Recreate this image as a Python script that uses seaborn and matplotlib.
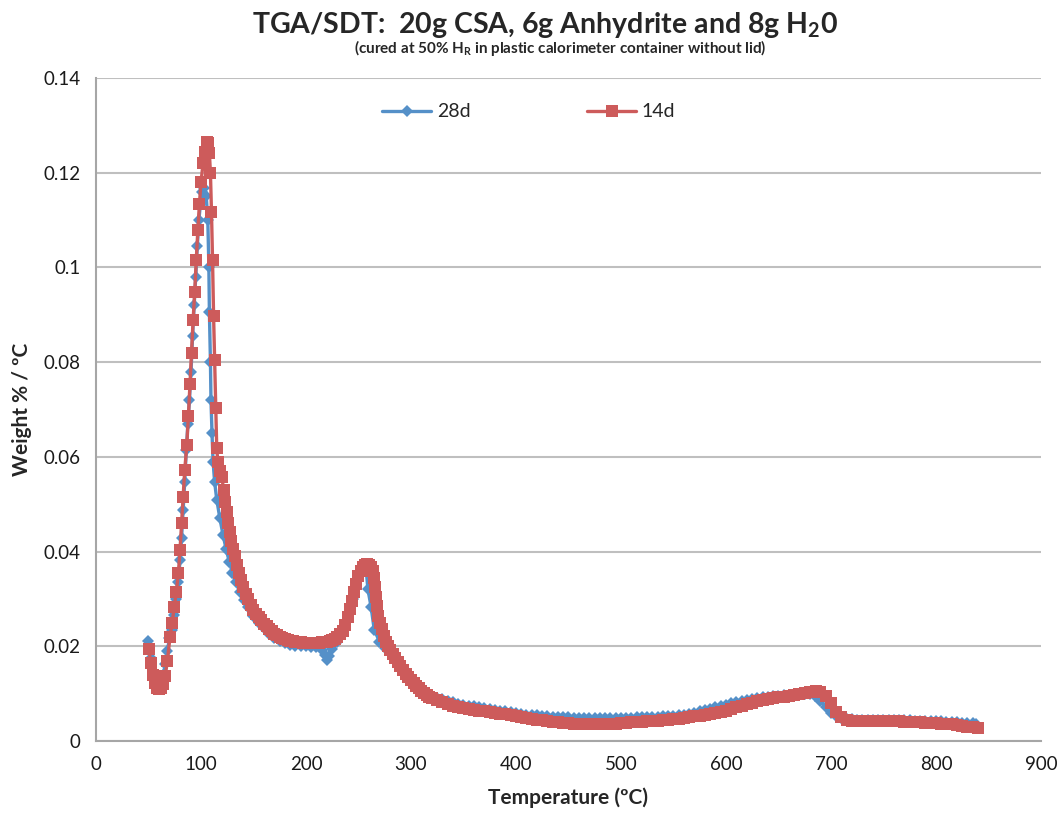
import numpy as np
import pandas as pd
import matplotlib
matplotlib.use("Agg")
import matplotlib.pyplot as plt
import seaborn as sns

# ---------------- data ----------------
temp_14d = [50.5, 52, 54, 56, 58, 60, 62, 64, 66, 68,
            70.5, 72.5, 74.5, 76.5, 78.5, 80, 81.5, 83, 84.5, 86.5,
            88, 89.5, 91, 92.5, 94, 95.5, 97, 98.5, 100, 102,
            104, 106, 107, 108, 109, 110, 111, 112, 113, 114,
            115, 116, 118, 120, 121.5, 123, 124.5, 126, 127.5, 129,
            130.5, 132, 134, 136, 138, 140, 142.5, 145, 147.5, 150,
            152.5, 155, 157.5, 160, 162.5, 165, 167.5, 170, 172.5, 175,
            177.5, 180, 182.5, 185, 187.5, 190, 192.5, 195, 197.5, 200,
            202.5, 205, 207.5, 210, 212.5, 215, 217.5, 220, 222.5, 225,
            227.5, 230, 232.5, 235, 237.5, 240, 242, 244, 246, 248,
            250, 252, 254, 256, 258, 260, 262, 263.5, 265, 266,
            267, 268, 269, 270.5, 272, 274, 276, 278, 280, 282.5,
            285, 287.5, 290, 292.5, 295, 297.5, 300, 302.5, 305, 307.5,
            310, 312.5, 315, 317.5, 320, 325, 330, 335, 340, 345,
            350, 355, 360, 365, 370, 375, 380, 385, 390, 395,
            400, 405, 410, 415, 420, 425, 430, 435, 440, 445,
            450, 455, 460, 465, 470, 475, 480, 485, 490, 495,
            500, 505, 510, 515, 520, 525, 530, 535, 540, 545,
            550, 555, 560, 565, 570, 575, 580, 585, 590, 595,
            600, 605, 610, 615, 620, 625, 630, 635, 640, 645,
            650, 655, 660, 665, 670, 675, 680, 686, 690, 695,
            700, 705, 710, 715, 720, 725, 730, 735, 740, 745,
            750, 755, 760, 765, 770, 775, 780, 785, 790, 795,
            800, 805, 810, 815, 820, 825, 830, 835, 840]
w_14d = [0.0195, 0.0165, 0.0140, 0.0122, 0.0113, 0.0110, 0.0112, 0.0120, 0.0138, 0.0170,
         0.0220, 0.0249, 0.0283, 0.0315, 0.0355, 0.0403, 0.0460, 0.0515, 0.0572, 0.0625,
         0.0686, 0.0754, 0.0819, 0.0889, 0.0948, 0.1016, 0.1079, 0.1134, 0.1180, 0.1220,
         0.1244, 0.1265, 0.1262, 0.1242, 0.1199, 0.1117, 0.1016, 0.0897, 0.0804, 0.0703,
         0.0619, 0.0590, 0.0570, 0.0557, 0.0530, 0.0505, 0.0483, 0.0460, 0.0441, 0.0423,
         0.0405, 0.0390, 0.0372, 0.0355, 0.0340, 0.0325, 0.0311, 0.0299, 0.0287, 0.0277,
         0.0269, 0.0262, 0.0255, 0.0248, 0.0242, 0.0237, 0.0232, 0.0227, 0.0223, 0.0220,
         0.0217, 0.0215, 0.0213, 0.0212, 0.0211, 0.0210, 0.0209, 0.0209, 0.0208, 0.0208,
         0.0208, 0.0208, 0.0208, 0.0208, 0.0208, 0.0209, 0.0209, 0.0210, 0.0211, 0.0213,
         0.0216, 0.0220, 0.0226, 0.0233, 0.0245, 0.0262, 0.0278, 0.0295, 0.0314, 0.0332,
         0.0348, 0.0360, 0.0368, 0.0372, 0.0373, 0.0372, 0.0368, 0.0360, 0.0345, 0.0325,
         0.0305, 0.0285, 0.0265, 0.0250, 0.0237, 0.0222, 0.0210, 0.0200, 0.0192, 0.0184,
         0.0175, 0.0166, 0.0158, 0.0150, 0.0142, 0.0135, 0.0129, 0.0123, 0.0117, 0.0111,
         0.0106, 0.0102, 0.0098, 0.0094, 0.0091, 0.0086, 0.0082, 0.0078, 0.0075, 0.0072,
         0.0070, 0.0068, 0.0066, 0.0064, 0.0063, 0.0061, 0.0060, 0.0058, 0.0057, 0.0055,
         0.0053, 0.0050, 0.0048, 0.0046, 0.0045, 0.0044, 0.0043, 0.0041, 0.0040, 0.0039,
         0.0038, 0.0037, 0.0036, 0.0035, 0.0035, 0.0035, 0.0035, 0.0035, 0.0036, 0.0037,
         0.0038, 0.0039, 0.0040, 0.0040, 0.0041, 0.0042, 0.0042, 0.0043, 0.0044, 0.0045,
         0.0046, 0.0047, 0.0049, 0.0050, 0.0052, 0.0053, 0.0055, 0.0057, 0.0059, 0.0061,
         0.0064, 0.0067, 0.0071, 0.0074, 0.0078, 0.0081, 0.0084, 0.0086, 0.0088, 0.0090,
         0.0092, 0.0094, 0.0096, 0.0097, 0.0099, 0.0101, 0.0103, 0.0106, 0.0104, 0.0095,
         0.0080, 0.0062, 0.0050, 0.0045, 0.0043, 0.0042, 0.0042, 0.0042, 0.0043, 0.0043,
         0.0043, 0.0043, 0.0042, 0.0042, 0.0041, 0.0041, 0.0040, 0.0040, 0.0039, 0.0039,
         0.0038, 0.0037, 0.0036, 0.0035, 0.0033, 0.0032, 0.0030, 0.0029, 0.0028]

temp_28d = [50, 52, 54, 56, 58, 60, 62, 64, 66, 68,
            70, 72, 74.5, 76.5, 78.5, 80, 81.5, 83, 84.5, 86,
            87.5, 89, 90.5, 92, 93.5, 95, 96.5, 98, 99.5, 101,
            103, 105, 106.5, 107.5, 108, 109, 109.5, 110.5, 111.5, 113,
            115, 118, 121, 124, 127, 130, 133, 137, 141, 145,
            150, 155, 160, 165, 170, 175, 180, 185, 190, 195,
            200, 205, 210, 215, 218, 220, 222, 225, 230, 235,
            240, 245, 250, 254, 257, 259, 262, 265, 270, 275,
            280, 285, 290, 295, 300, 305, 310, 315, 320, 325,
            330, 335, 340, 345, 350, 355, 360, 365, 370, 375,
            380, 385, 390, 395, 400, 405, 410, 415, 420, 425,
            430, 435, 440, 445, 450, 455, 460, 465, 470, 475,
            480, 485, 490, 495, 500, 505, 510, 515, 520, 525,
            530, 535, 540, 545, 550, 555, 560, 565, 570, 575,
            580, 585, 590, 595, 600, 605, 610, 615, 620, 625,
            630, 635, 640, 645, 650, 655, 660, 665, 670, 675,
            680, 685, 690, 695, 700, 705, 710, 715, 720, 725,
            730, 735, 740, 745, 750, 755, 760, 765, 770, 775,
            780, 785, 790, 795, 800, 805, 810, 815, 820, 825,
            830, 835, 838]
w_28d = [0.0212, 0.0175, 0.0145, 0.0125, 0.0117, 0.0118, 0.0125, 0.0140, 0.0162, 0.0190,
         0.0218, 0.0235, 0.0266, 0.0300, 0.0336, 0.0382, 0.0429, 0.0488, 0.0547, 0.0614,
         0.0670, 0.0720, 0.0780, 0.0855, 0.0920, 0.0980, 0.1045, 0.1100, 0.1135, 0.1160,
         0.1168, 0.1150, 0.1100, 0.1000, 0.0906, 0.0800, 0.0720, 0.0650, 0.0590, 0.0547,
         0.0510, 0.0470, 0.0435, 0.0405, 0.0378, 0.0355, 0.0335, 0.0315, 0.0298, 0.0283,
         0.0265, 0.0250, 0.0238, 0.0227, 0.0218, 0.0211, 0.0206, 0.0203, 0.0201, 0.0200,
         0.0200, 0.0199, 0.0198, 0.0193, 0.0182, 0.0172, 0.0180, 0.0195, 0.0210, 0.0228,
         0.0260, 0.0300, 0.0340, 0.0362, 0.0370, 0.0320, 0.0283, 0.0235, 0.0210, 0.0197,
         0.0188, 0.0170, 0.0155, 0.0140, 0.0127, 0.0116, 0.0106, 0.0100, 0.0095, 0.0091,
         0.0088, 0.0085, 0.0082, 0.0079, 0.0077, 0.0075, 0.0073, 0.0071, 0.0069, 0.0067,
         0.0066, 0.0064, 0.0063, 0.0061, 0.0059, 0.0057, 0.0056, 0.0055, 0.0054, 0.0053,
         0.0052, 0.0051, 0.0051, 0.0050, 0.0050, 0.0049, 0.0049, 0.0048, 0.0048, 0.0048,
         0.0048, 0.0048, 0.0048, 0.0048, 0.0049, 0.0049, 0.0049, 0.0050, 0.0050, 0.0050,
         0.0050, 0.0051, 0.0052, 0.0052, 0.0053, 0.0054, 0.0056, 0.0058, 0.0060, 0.0063,
         0.0066, 0.0068, 0.0071, 0.0074, 0.0077, 0.0080, 0.0082, 0.0085, 0.0087, 0.0089,
         0.0091, 0.0093, 0.0094, 0.0095, 0.0096, 0.0097, 0.0098, 0.0099, 0.0100, 0.0100,
         0.0100, 0.0095, 0.0085, 0.0072, 0.0060, 0.0052, 0.0048, 0.0047, 0.0046, 0.0045,
         0.0045, 0.0045, 0.0045, 0.0045, 0.0045, 0.0045, 0.0044, 0.0044, 0.0044, 0.0044,
         0.0043, 0.0043, 0.0043, 0.0043, 0.0042, 0.0042, 0.0041, 0.0041, 0.0040, 0.0039,
         0.0039, 0.0038, 0.0037]

series_names = ["28d", "14d"]
x_ticks = [0, 100, 200, 300, 400, 500, 600, 700, 800, 900]
y_ticks = [0, 0.02, 0.04, 0.06, 0.08, 0.1, 0.12, 0.14]
y_tick_labels = ["0", "0.02", "0.04", "0.06", "0.08", "0.1", "0.12", "0.14"]

# ---------------- style ----------------
sns.set_style("white")
plt.rcParams["font.family"] = ["Lato", "DejaVu Sans"]
plt.rcParams["mathtext.fontset"] = "custom"
plt.rcParams["mathtext.rm"] = "Lato"
plt.rcParams["mathtext.bf"] = "Lato:bold"
plt.rcParams["mathtext.it"] = "Lato:italic"

blue = "#5590C8"
red = "#CD5B5B"
grid_c = "#BFBFBF"
axis_c = "#A6A6A6"

fig = plt.figure(figsize=(10.63, 8.18), dpi=100)
ax = fig.add_axes([0.0903, 0.0941, 0.889, 0.8105])

df28 = pd.DataFrame({"T": temp_28d, "w": w_28d})
df14 = pd.DataFrame({"T": temp_14d, "w": w_14d})

sns.lineplot(data=df28, x="T", y="w", ax=ax, sort=False, color=blue,
             linewidth=2.4, marker="D", markersize=6, markeredgewidth=0,
             label=series_names[0], zorder=3)
sns.lineplot(data=df14, x="T", y="w", ax=ax, sort=False, color=red,
             linewidth=2.4, marker="s", markersize=8.5, markeredgewidth=0,
             label=series_names[1], zorder=4)

ax.set_xlim(0, 900)
ax.set_ylim(0, 0.14)
ax.set_xticks(x_ticks)
ax.set_yticks(y_ticks)
ax.set_yticklabels(y_tick_labels)
ax.tick_params(axis="both", which="major", direction="out", length=5, width=1.2,
               color=axis_c, labelsize=13.5, labelcolor="#1a1a1a", pad=6)
ax.yaxis.grid(True, color=grid_c, linewidth=1.5)
ax.xaxis.grid(False)
ax.set_axisbelow(True)
for s in ["top", "right"]:
    ax.spines[s].set_visible(False)
for s in ["left", "bottom"]:
    ax.spines[s].set_color(axis_c)
    ax.spines[s].set_linewidth(1.5)

ax.set_xlabel("Temperature (ºC)", fontsize=15, fontweight="bold", labelpad=10)
ax.set_ylabel("Weight % / ºC", fontsize=15, fontweight="bold", labelpad=8)

leg = ax.legend(loc="center", bbox_to_anchor=(0.458, 0.949), ncol=2, frameon=False,
                fontsize=14, handlelength=2.5, columnspacing=6.0, handletextpad=0.3)

fig.text(0.513, 0.970, r"TGA/SDT:  20g CSA, 6g Anhydrite and 8g H$_\mathbf{2}$0",
         ha="center", va="center", fontsize=20.5, fontweight="bold")
fig.text(0.527, 0.941, r"(cured at 50% H$_\mathbf{R}$ in plastic calorimeter container without lid)",
         ha="center", va="center", fontsize=11, fontweight="bold")

fig.savefig("out.png", dpi=100)
